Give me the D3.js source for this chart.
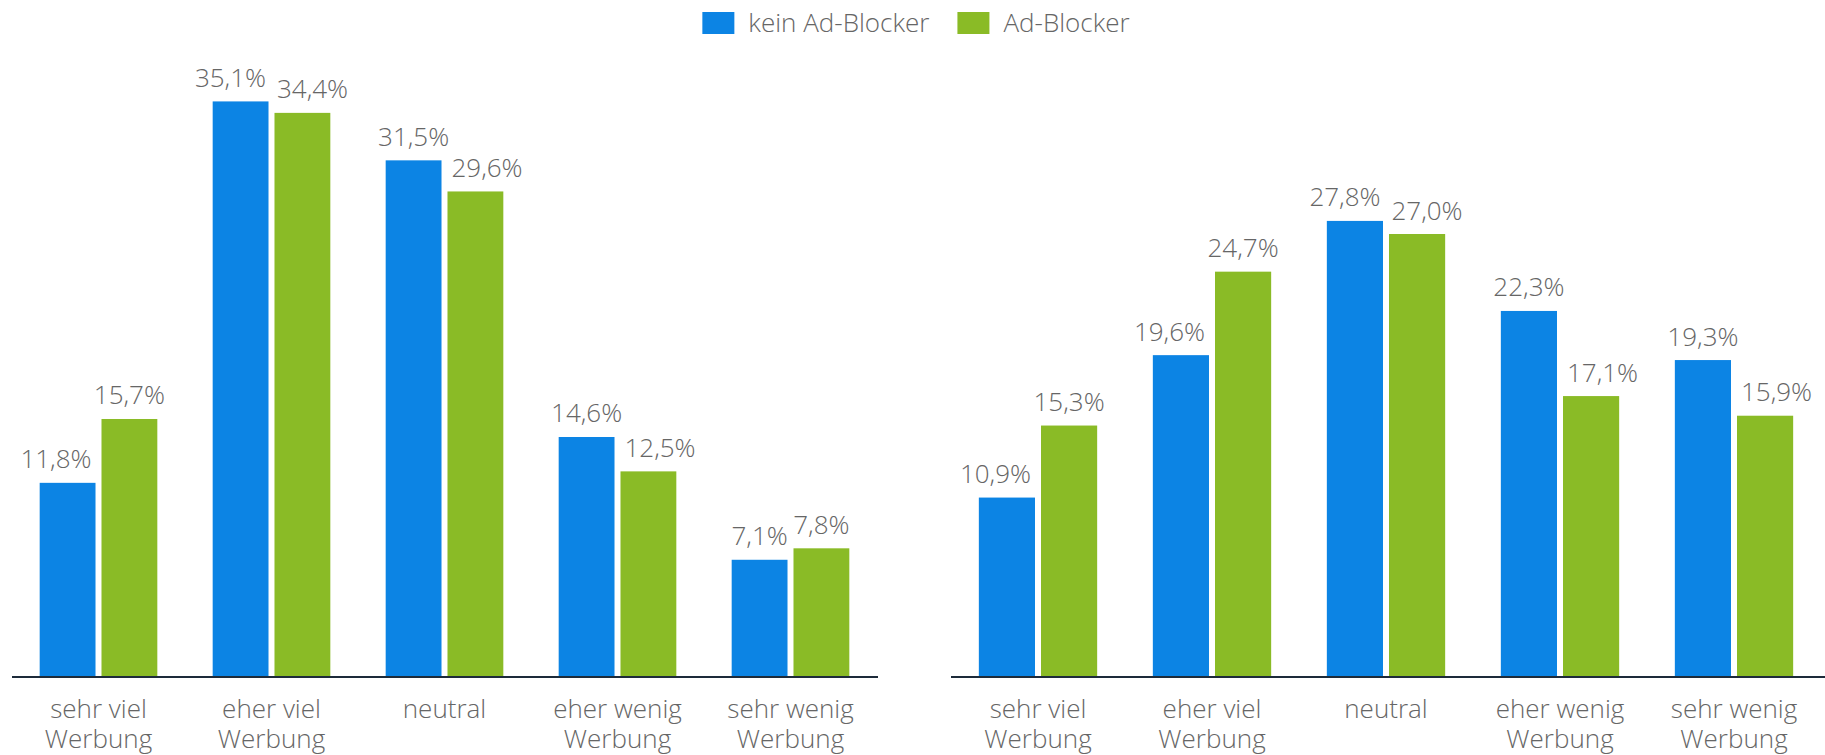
<!DOCTYPE html>
<meta charset="utf-8">
<title>Ad-Blocker Werbung</title>
<style>
  body { margin: 0; background: #fff; }
  text { font-family: "Open Sans", sans-serif; font-weight: 300; fill: #666; }
</style>
<body>
<svg id="chart" width="1825" height="755"></svg>
<script src="https://d3js.org/d3.v7.min.js"></script>
<script>

var categories = [
  ["sehr viel", "Werbung"],
  ["eher viel", "Werbung"],
  ["neutral"],
  ["eher wenig", "Werbung"],
  ["sehr wenig", "Werbung"]
];
var seriesNames = ["kein Ad-Blocker", "Ad-Blocker"];

var leftNoBlocker = [11.8, 35.1, 31.5, 14.6, 7.1];
var leftBlocker = [15.7, 34.4, 29.6, 12.5, 7.8];
var rightNoBlocker = [10.9, 19.6, 27.8, 22.3, 19.3];
var rightBlocker = [15.3, 24.7, 27.0, 17.1, 15.9];

var colors = ["#0c84e4", "#8abb26"];

var svg = d3.select("#chart"),
    baseline = 676,
    fontSize = 26;

var y = d3.scaleLinear()
    .domain([0, 40])
    .range([baseline, baseline - 40 * 16.37]);

var fmt = function (v) { return d3.format(".1f")(v).replace(".", ",") + "%"; };

// legend
var legend = svg.append("g");
var lx = 0;
seriesNames.forEach(function (name, i) {
  var g = legend.append("g").attr("transform", "translate(" + lx + ",0)");
  g.append("rect")
    .attr("x", 0).attr("y", 12)
    .attr("width", 32).attr("height", 22)
    .attr("fill", colors[i]);
  var t = g.append("text")
    .attr("x", 46).attr("y", 32)
    .style("font-size", "26px")
    .text(name);
  lx += 46 + t.node().getComputedTextLength() + 28;
});
lx -= 28;
legend.attr("transform", "translate(" + (916 - lx / 2) + ",0)");

function drawPanel(range, axisEnd, noBlocker, blocker) {
  var g = svg.append("g");

  var x0 = d3.scaleBand()
      .domain(d3.range(categories.length))
      .range(range)
      .paddingInner(0.32)
      .paddingOuter(0.16);

  var x1 = d3.scaleBand()
      .domain([0, 1])
      .range([0, x0.bandwidth()])
      .paddingInner(6 / 62);

  var data = categories.map(function (c, i) {
    return { i: i, values: [noBlocker[i], blocker[i]] };
  });

  // axis line
  g.append("line")
    .attr("x1", range[0]).attr("x2", axisEnd)
    .attr("y1", baseline + 1).attr("y2", baseline + 1)
    .attr("stroke", "#1d2b3a")
    .attr("stroke-width", 2);

  data.forEach(function (d) {
    var gx = x0(d.i);
    var bars = d.values.map(function (v, s) {
      return { x0: gx + x1(s), x1: gx + x1(s) + x1.bandwidth(), top: y(v), v: v };
    });

    bars.forEach(function (b, s) {
      g.append("rect")
        .attr("x", b.x0).attr("y", b.top)
        .attr("width", x1.bandwidth())
        .attr("height", baseline - b.top)
        .attr("fill", colors[s]);
    });

    // value labels, nudged sideways when they collide
    var labels = bars.map(function (b) {
      var t = g.append("text")
        .attr("text-anchor", "middle")
        .attr("y", b.top - 14.5)
        .style("font-size", fontSize + "px")
        .text(fmt(b.v));
      var w = t.node().getComputedTextLength();
      var cx = (b.x0 + b.x1) / 2;
      return { el: t, w: w, cx: cx, top: b.top - 14.5 - 19, bottom: b.top - 13.5 };
    });

    var L = labels[0], R = labels[1], bl = bars[0], gr = bars[1];
    if (L.cx + L.w / 2 + 2 > gr.x0 && L.bottom > gr.top) L.cx = gr.x0 - 10 - L.w / 2;
    if (R.cx - R.w / 2 - 2 < bl.x1 && R.bottom > bl.top) R.cx = bl.x1 + 10 + R.w / 2;
    var overlap = (L.cx + L.w / 2) - (R.cx - R.w / 2);
    if (overlap > 0 && L.bottom > R.top && R.bottom > L.top) {
      var shift = (overlap + 11) / 2;
      L.cx -= shift;
      R.cx += shift;
    }
    L.el.attr("x", L.cx);
    R.el.attr("x", R.cx);

    // category label
    var t = g.append("text")
      .attr("text-anchor", "middle")
      .style("font-size", fontSize + "px");
    categories[d.i].forEach(function (line, k) {
      t.append("tspan")
        .attr("x", gx + x0.bandwidth() / 2)
        .attr("y", 718 + k * 30)
        .text(line);
    });
  });
}

drawPanel([12, 877], 878, leftNoBlocker, leftBlocker);
drawPanel([951, 1821], 1825, rightNoBlocker, rightBlocker);

</script>
</body>
